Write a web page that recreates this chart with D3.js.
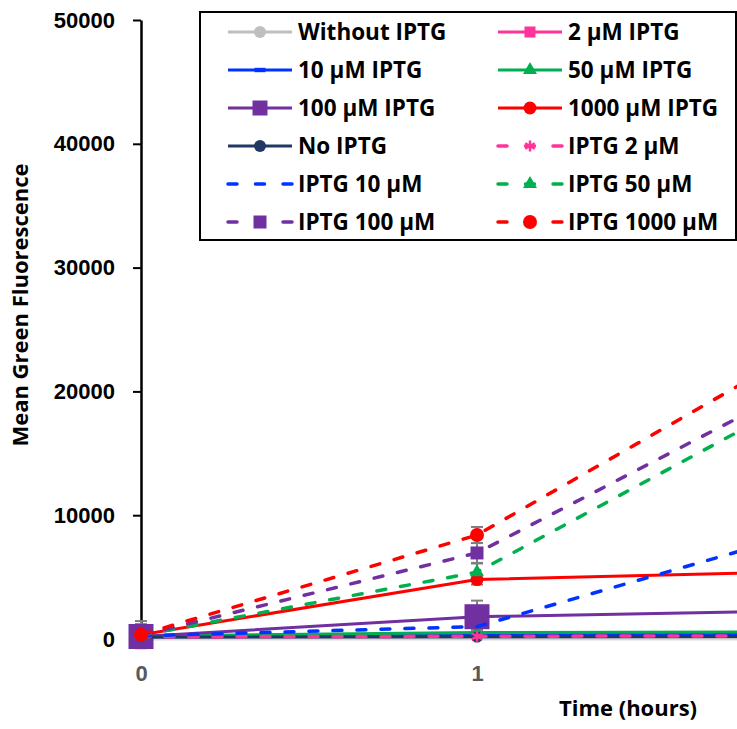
<!DOCTYPE html>
<html>
<head>
<meta charset="utf-8">
<script src="https://cdn.jsdelivr.net/npm/d3@7"></script>
<style>
  body { margin: 0; background: #fff; }
  svg { display: block; font-family: "Open Sans", "Liberation Sans", sans-serif; font-weight: 700; }
</style>
</head>
<body>
<div id="chart"></div>
<script>
// time points (hours); the 2 h point lies past the right edge of the picture
const times = [0, 1, 2];
const xTickValues = [0, 1];
const yTickValues = [0, 10000, 20000, 30000, 40000, 50000];

const labels = ["Without IPTG", "2 µM IPTG", "10 µM IPTG", "50 µM IPTG", "100 µM IPTG", "1000 µM IPTG",
                "No IPTG", "IPTG 2 µM", "IPTG 10 µM", "IPTG 50 µM", "IPTG 100 µM", "IPTG 1000 µM"];

// mean fluorescence, one array per series
const withoutIptg = [150, 100, 120];
const iptg2 = [200, 250, 250];
const iptg10 = [220, 350, 420];
const iptg50 = [250, 520, 580];
const iptg100 = [200, 1800, 2300];
const iptg1000 = [350, 4800, 5450];
const noIptg = [150, 180, 220];
const iptg2b = [180, 220, 260];
const iptg10b = [250, 1000, 8800];
const iptg50b = [300, 5400, 20000];
const iptg100b = [300, 6950, 21000];
const iptg1000b = [350, 8400, 23900];

// error bars (+/-)
const errWithoutIptg = [50, 50, 50];
const errIptg2 = [50, 80, 80];
const errIptg10 = [80, 100, 120];
const errIptg50 = [100, 120, 150];
const errIptg100 = [300, 1300, 600];
const errIptg1000 = [800, 400, 600];
const errNoIptg = [50, 60, 60];
const errIptg2b = [60, 80, 80];
const errIptg10b = [200, 200, 900];
const errIptg50b = [700, 700, 1500];
const errIptg100b = [900, 800, 1500];
const errIptg1000b = [1100, 650, 1500];

const means = [withoutIptg, iptg2, iptg10, iptg50, iptg100, iptg1000,
               noIptg, iptg2b, iptg10b, iptg50b, iptg100b, iptg1000b];
const errs = [errWithoutIptg, errIptg2, errIptg10, errIptg50, errIptg100, errIptg1000,
              errNoIptg, errIptg2b, errIptg10b, errIptg50b, errIptg100b, errIptg1000b];

const W = 737, H = 729;

// the dash marker used by "10 µM IPTG"
const symbolDash = {
    draw(ctx, size) {
        const w = Math.sqrt(size);
        ctx.rect(-w / 2, -w / 5, w, w / 2.5);
    }
};

// look of each series: colour, dashed?, marker type, marker px in plot, marker px in legend
const styles = [
    {c: "#bfbfbf", dash: false, m: "circle", s: 11, ls: 12},
    {c: "#ff3399", dash: false, m: "square", s: 10, ls: 11},
    {c: "#0033ff", dash: false, m: "dash", s: 11, ls: 11},
    {c: "#00b050", dash: false, m: "triangle", s: 13, ls: 13},
    {c: "#7030a0", dash: false, m: "square", s: 25, ls: 15},
    {c: "#ff0000", dash: false, m: "circle", s: 13, ls: 13},
    {c: "#203864", dash: false, m: "circle", s: 11, ls: 12},
    {c: "#ff3399", dash: true, m: "asterisk", s: 12, ls: 12},
    {c: "#0033ff", dash: true, m: null, s: 0, ls: 0},
    {c: "#00b050", dash: true, m: "triangle", s: 13, ls: 13},
    {c: "#7030a0", dash: true, m: "square", s: 13, ls: 13},
    {c: "#ff0000", dash: true, m: "circle", s: 14, ls: 14}
];

let symbolPath = (type, px) => {
    if (type === "circle") return d3.symbol(d3.symbolCircle, Math.PI * px * px / 4)();
    if (type === "square") return d3.symbol(d3.symbolSquare, px * px)();
    if (type === "triangle") return d3.symbol(d3.symbolTriangle, px * px * 0.5)();
    if (type === "asterisk") return d3.symbol(d3.symbolAsterisk, px * px * 0.6)();
    if (type === "dash") return d3.symbol(symbolDash, px * px)();
    return null;
};

const svg = d3.select("#chart").append("svg")
    .attr("width", W)
    .attr("height", H)
    .attr("viewBox", `0 0 ${W} ${H}`);

const x = d3.scaleLinear().domain([0, 2]).range([141, 813]);
const y = d3.scaleLinear().domain([0, 50000]).range([639, 20]);

/* X axis (light line, grey labels) */
const xAxis = svg.append("g")
    .attr("transform", `translate(0, ${y(0)})`)
    .call(d3.axisBottom(x).tickValues(xTickValues).tickFormat(d3.format("d")).tickSize(0).tickPadding(26));
xAxis.select(".domain").attr("stroke", "#d9d9d9").attr("stroke-width", 2);
xAxis.selectAll("text")
    .attr("fill", "#595959")
    .style("font-size", "22px")
    .style("font-family", "inherit");

/* Y axis */
const yAxis = svg.append("g")
    .attr("transform", `translate(${x(0)}, 0)`)
    .call(d3.axisLeft(y).tickValues(yTickValues).tickFormat(d3.format("d")).tickSize(8).tickSizeOuter(0).tickPadding(18));
yAxis.select(".domain").attr("stroke", "#000").attr("stroke-width", 2.5);
yAxis.selectAll(".tick line").attr("stroke", "#000").attr("stroke-width", 2);
yAxis.selectAll("text")
    .attr("fill", "#000")
    .style("font-size", "22px")
    .style("font-family", "inherit");

// axis titles
svg.append("text")
    .attr("transform", `translate(20, 305) rotate(-90)`)
    .attr("text-anchor", "middle")
    .attr("dy", "0.35em")
    .style("font-size", "22px")
    .text("Mean Green Fluorescence");

svg.append("text")
    .attr("x", 628)
    .attr("y", 716)
    .attr("text-anchor", "middle")
    .style("font-size", "22px")
    .text("Time (hours)");

/* Series */
const series = labels.map((name, i) => ({
    name: name,
    style: styles[i],
    points: times.map((t, j) => ({t: t, v: means[i][j], e: errs[i][j]}))
}));

// error bars first, they sit under lines and markers
const errG = svg.append("g").attr("stroke", "#7f7f7f").attr("stroke-width", 2);
series.forEach(s => {
    s.points.forEach(p => {
        const cx = x(p.t);
        errG.append("line").attr("x1", cx).attr("x2", cx).attr("y1", y(p.v - p.e)).attr("y2", y(p.v + p.e));
        [p.v - p.e, p.v + p.e].forEach(v => {
            errG.append("line").attr("x1", cx - 6).attr("x2", cx + 6).attr("y1", y(v)).attr("y2", y(v));
        });
    });
});

const line = d3.line().x(d => x(d.t)).y(d => y(d.v));

series.forEach(s => {
    const g = svg.append("g");
    g.append("path")
        .datum(s.points)
        .attr("d", line)
        .attr("fill", "none")
        .attr("stroke", s.style.c)
        .attr("stroke-width", s.style.dash ? 3.5 : 3)
        .attr("stroke-linecap", s.style.dash ? "round" : "butt")
        .attr("stroke-dasharray", s.style.dash ? "9 15" : null);
    if (s.style.m) {
        const isStroke = s.style.m === "asterisk";
        g.selectAll("path.marker")
            .data(s.points)
            .join("path")
            .attr("class", "marker")
            .attr("transform", d => `translate(${x(d.t)}, ${y(d.v)})`)
            .attr("d", symbolPath(s.style.m, s.style.s))
            .attr("fill", isStroke ? "none" : s.style.c)
            .attr("stroke", isStroke ? s.style.c : "none")
            .attr("stroke-width", isStroke ? 2.5 : 0);
    }
});

/* Legend */
const legend = svg.append("g");
legend.append("rect")
    .attr("x", 200).attr("y", 12)
    .attr("width", 536).attr("height", 228)
    .attr("fill", "#fff")
    .attr("stroke", "#000")
    .attr("stroke-width", 2);

const colX = [228, 498];
const rowY0 = 32, rowStep = 38;

series.forEach((s, i) => {
    const col = i % 2;
    const row = Math.floor(i / 2);
    const lx = colX[col], ly = rowY0 + row * rowStep;
    const item = legend.append("g").attr("transform", `translate(${lx}, ${ly})`);
    item.append("line")
        .attr("x1", 0).attr("x2", 64)
        .attr("stroke", s.style.c)
        .attr("stroke-width", s.style.dash ? 3.5 : 3)
        .attr("stroke-linecap", s.style.dash ? "round" : "butt")
        .attr("stroke-dasharray", s.style.dash ? "9 18.5" : null);
    if (s.style.m) {
        const isStroke = s.style.m === "asterisk";
        item.append("path")
            .attr("transform", "translate(32, 0)")
            .attr("d", symbolPath(s.style.m, s.style.ls))
            .attr("fill", isStroke ? "none" : s.style.c)
            .attr("stroke", isStroke ? s.style.c : "none")
            .attr("stroke-width", isStroke ? 2.5 : 0);
    }
    item.append("text")
        .attr("x", 70)
        .attr("dy", "0.36em")
        .style("font-size", "22.5px")
        .text(s.name);
});
</script>
</body>
</html>
